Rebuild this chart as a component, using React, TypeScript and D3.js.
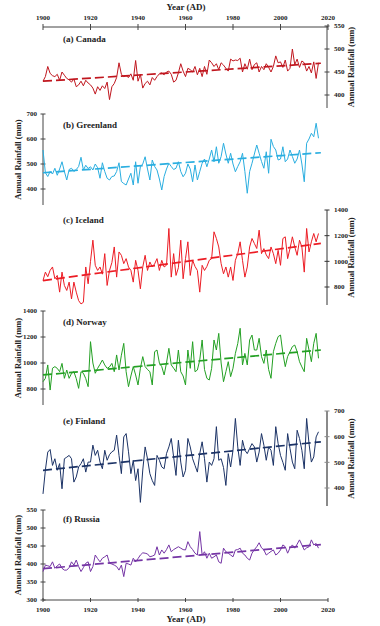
import React from "react";
import * as d3 from "d3";

const START_YEAR = 1900;
const X_TICKS = [1900, 1920, 1940, 1960, 1980, 2000, 2020];

const canada = [430,440,462,447,442,440,445,432,450,443,436,433,428,435,418,422,430,420,432,426,422,415,402,418,410,420,414,428,390,418,425,438,470,445,440,442,438,446,432,475,430,445,415,425,430,422,438,432,440,446,448,444,450,452,445,428,432,448,468,452,440,458,455,450,462,444,458,440,462,445,476,470,462,468,455,470,465,458,452,478,474,476,475,480,450,468,456,478,455,466,470,450,462,455,468,460,450,462,485,470,472,460,476,452,458,500,466,478,460,474,470,452,462,448,472,436,470];
const greenland = [556,465,450,470,460,483,455,480,509,470,436,478,483,470,478,490,527,476,495,482,489,476,500,485,443,505,470,443,436,450,452,470,505,430,422,416,440,463,416,509,423,489,500,529,480,436,516,490,476,440,396,450,480,503,490,478,483,509,470,449,463,500,480,429,496,436,470,503,520,489,520,556,509,569,503,530,583,540,503,543,500,469,490,509,543,470,383,470,503,540,576,543,510,483,549,463,599,570,556,516,520,569,509,520,556,530,503,520,556,500,429,583,600,623,609,663,603];
const iceland = [850,916,880,930,956,864,890,760,916,812,773,838,707,838,760,694,668,681,956,825,1000,1165,969,929,956,900,1060,812,929,990,1112,877,1073,1047,982,1021,956,930,838,1008,929,786,956,1047,929,995,956,980,1021,929,1008,956,970,1256,877,1060,890,950,1165,864,1021,1152,890,1008,960,929,760,969,929,960,1008,1021,1230,1178,1112,982,903,956,877,956,851,1008,1060,1152,1008,877,956,1112,1178,1139,1100,1243,1060,1099,1050,1021,1112,1060,982,1086,969,1178,1191,1021,1100,1191,1112,1047,1165,1112,916,1256,1073,1152,1217,1152,1217];
const norway = [856,882,985,792,960,972,959,933,997,882,946,882,920,933,880,805,933,921,880,818,1164,1000,921,959,990,1023,985,959,970,997,933,1062,946,1060,1151,933,818,900,972,908,831,959,1049,972,950,933,831,1087,1100,1000,972,908,1000,1113,985,960,933,1100,933,900,831,1100,959,1164,933,946,1023,1177,950,882,869,959,1177,1100,1228,1000,856,933,1010,895,960,1074,1150,1267,985,1074,985,1177,1215,1100,1100,1190,1049,997,1100,950,882,1087,1151,1203,1215,1074,972,1050,1087,1126,1138,1087,1010,970,933,1190,1100,1010,1151,1228,1036];
const finland = [377,470,540,550,488,514,469,495,397,514,520,527,514,423,443,482,495,514,462,501,501,567,527,547,501,475,547,508,530,541,547,606,527,456,599,612,541,456,508,429,475,344,470,560,514,456,429,410,527,508,482,475,534,560,593,521,449,586,501,443,469,593,560,514,488,462,534,580,514,423,501,488,514,639,508,514,480,410,534,482,547,671,560,488,586,547,534,554,573,560,501,540,612,567,508,560,547,488,639,573,527,500,469,612,554,501,475,625,593,547,475,671,573,501,521,599,619];
const russia = [379,397,395,393,406,388,395,400,388,383,383,390,406,397,411,393,379,390,402,406,379,393,425,415,406,416,420,425,402,400,397,393,383,397,365,402,400,397,416,406,415,425,431,430,428,420,422,425,448,425,439,430,440,453,434,440,444,448,444,440,439,462,448,440,430,425,490,425,434,416,430,416,420,425,406,402,444,434,430,425,420,439,440,444,430,425,416,411,430,440,448,459,445,439,425,430,435,439,425,430,439,453,448,430,445,453,444,455,467,453,439,445,448,467,453,457,444];

const trendCanada = [430, 469];
const trendGreenland = [465, 545];
const trendIceland = [850, 1140];
const trendNorway = [908, 1100];
const trendFinland = [469, 580];
const trendRussia = [387, 454];
const TREND_YEARS = [1900, 2017];

const ticksCanada = [400, 450, 500, 550];
const ticksGreenland = [400, 500, 600, 700];
const ticksIceland = [800, 1000, 1200, 1400];
const ticksNorway = [800, 1000, 1200, 1400];
const ticksFinland = [400, 500, 600, 700];
const ticksRussia = [300, 350, 400, 450, 500, 550];

const FONT = "Liberation Serif";

const panels = [
  { label: "(a) Canada", data: canada, trend: trendCanada, ticks: ticksCanada, color: "#c0161e", side: "right", dom: [400, 550], rng: [95, 26], line: [26, 108], labelY: 42, axisColor: "#444", axisW: 1 },
  { label: "(b) Greenland", data: greenland, trend: trendGreenland, ticks: ticksGreenland, color: "#2aaee0", side: "left", dom: [400, 700], rng: [189, 114], line: [114, 205], labelY: 128, axisColor: "#444", axisW: 1 },
  { label: "(c) Iceland", data: iceland, trend: trendIceland, ticks: ticksIceland, color: "#ec1c24", side: "right", dom: [800, 1400], rng: [287, 210], line: [210, 305], labelY: 223, axisColor: "#333", axisW: 1 },
  { label: "(d) Norway", data: norway, trend: trendNorway, ticks: ticksNorway, color: "#23a023", side: "left", dom: [800, 1400], rng: [389, 311], line: [311, 405], labelY: 325, axisColor: "#444", axisW: 1 },
  { label: "(e) Finland", data: finland, trend: trendFinland, ticks: ticksFinland, color: "#1c3366", side: "right", dom: [400, 700], rng: [488, 411], line: [411, 506], labelY: 424, axisColor: "#8a8a8a", axisW: 2 },
  { label: "(f) Russia", data: russia, trend: trendRussia, ticks: ticksRussia, color: "#7535a5", side: "left", dom: [300, 550], rng: [600, 510], line: [510, 600], labelY: 522, axisColor: "#444", axisW: 1 },
];

const X_LEFT = 43;
const X_RIGHT = 328;

const txt = { fontFamily: FONT, fontWeight: 700 as const, fill: "#222" };

export default function App() {
  const x = d3.scaleLinear().domain([1900, 2020]).range([X_LEFT, X_RIGHT]);
  const TOP_Y = 27;
  const BOT_Y = 600;
  return (
    <svg width={380} height={626} style={{ position: "absolute", left: 0, top: 0, background: "#fff", fontFamily: FONT }}>
      <text x={186} y={10} fontSize={9} textAnchor="middle" style={txt}>Year (AD)</text>
      <line x1={X_LEFT} x2={X_RIGHT} y1={TOP_Y} y2={TOP_Y} stroke="#444" strokeWidth={1} />
      {X_TICKS.map((t) => (
        <g key={"tt" + t}>
          <line x1={x(t)} x2={x(t)} y1={TOP_Y - 3} y2={TOP_Y + 3} stroke="#444" strokeWidth={1} />
          <text x={x(t)} y={19.5} fontSize={7} textAnchor="middle" style={txt}>{t}</text>
        </g>
      ))}
      <line x1={X_LEFT} x2={X_RIGHT} y1={BOT_Y} y2={BOT_Y} stroke="#444" strokeWidth={1} />
      {X_TICKS.map((t) => (
        <g key={"bt" + t}>
          <line x1={x(t)} x2={x(t)} y1={BOT_Y - 2} y2={BOT_Y + 2} stroke="#444" strokeWidth={1} />
          <text x={x(t)} y={611.5} fontSize={7} textAnchor="middle" style={txt}>{t}</text>
        </g>
      ))}
      <text x={186} y={622} fontSize={9} textAnchor="middle" style={txt}>Year (AD)</text>

      {panels.map((p) => {
        const y = d3.scaleLinear().domain(p.dom).range(p.rng);
        const line = d3.line<number>().x((_, i) => x(START_YEAR + i)).y((v) => y(v));
        const ax = p.side === "left" ? X_LEFT : X_RIGHT - 1;
        const titleX = p.side === "left" ? 19 : 352;
        const mid = (p.line[0] + p.line[1]) / 2;
        return (
          <g key={p.label}>
            <line x1={ax} x2={ax} y1={p.line[0]} y2={p.line[1]} stroke={p.axisColor} strokeWidth={p.axisW} />
            {p.ticks.map((t) => (
              <g key={t}>
                <line x1={ax - 2.5} x2={ax + 2.5} y1={y(t)} y2={y(t)} stroke={p.axisColor} strokeWidth={1} />
                <text
                  x={p.side === "left" ? ax - 6 : ax + 7}
                  y={y(t) + 2.4}
                  fontSize={7}
                  textAnchor={p.side === "left" ? "end" : "start"}
                  style={txt}
                >
                  {t}
                </text>
              </g>
            ))}
            <text
              transform={`translate(${titleX},${mid}) rotate(-90)`}
              fontSize={8.5}
              textAnchor="middle"
              dominantBaseline="middle"
              style={txt}
            >
              Annual Rainfall (mm)
            </text>
            <text x={63} y={p.labelY} fontSize={9} style={txt}>{p.label}</text>
            <path d={line(p.data) || ""} fill="none" stroke={p.color} strokeWidth={1} strokeLinejoin="round" />
            <line
              x1={x(TREND_YEARS[0])}
              x2={x(TREND_YEARS[1])}
              y1={y(p.trend[0])}
              y2={y(p.trend[1])}
              stroke={p.color}
              strokeWidth={1.7}
              strokeDasharray="9,4"
            />
          </g>
        );
      })}
    </svg>
  );
}
